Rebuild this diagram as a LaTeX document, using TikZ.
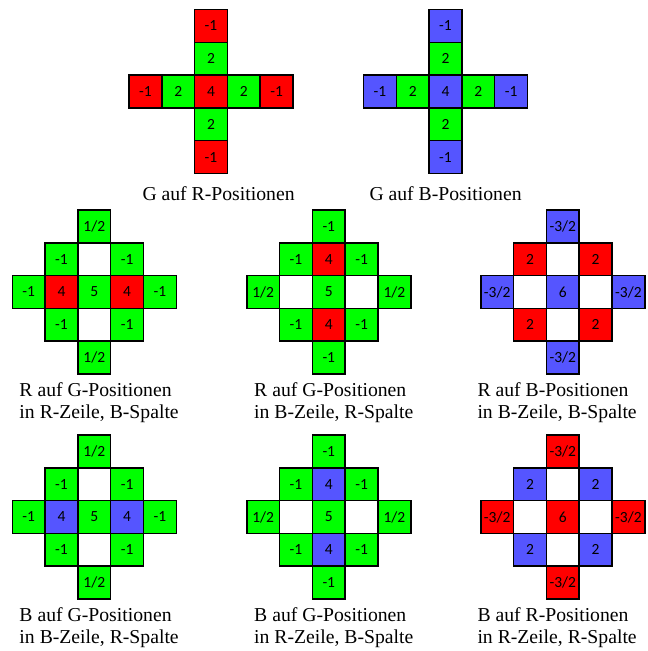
\documentclass[tikz,border=0pt]{standalone}
\usepackage{fontspec}
\setmainfont{Liberation Serif}
\newfontfamily\cellfont{Carlito}
\definecolor{cR}{RGB}{255,0,0}
\definecolor{cG}{RGB}{0,255,0}
\definecolor{cB}{RGB}{85,85,255}
\definecolor{cW}{RGB}{255,255,255}
\def\s{32.8}
\newcommand\C[5]{\node[cell,fill=#4] (#1) at ({#2*\s},{#3*\s}) {#5};}
\newcommand\Borders[2]{\foreach \k in {1,...,#2} {\draw[cellborder] (#1\k.north west) rectangle (#1\k.south east);}}
\tikzset{
  cell/.style={minimum size=\s pt, inner sep=0pt, outer sep=0pt,
    font=\cellfont\fontsize{15.5}{16}\selectfont},
  cellborder/.style={draw=black, line width=1.5pt, line join=miter},
  captext/.style={anchor=base west, inner sep=0pt, font=\fontsize{19.7}{22}\selectfont}
}
\begin{document}
\begin{tikzpicture}[x=1pt,y=-1pt]
\useasboundingbox (0,0) rectangle (648,651);
% ---- Row 1: G auf R
\begin{scope}[shift={(211,91.5)}]
\C{a1}{0}{-2}{cR}{-1}
\C{a2}{0}{-1}{cG}{2}
\C{a3}{-2}{0}{cR}{-1}
\C{a4}{-1}{0}{cG}{2}
\C{a5}{0}{0}{cR}{4}
\C{a6}{1}{0}{cG}{2}
\C{a7}{2}{0}{cR}{-1}
\C{a8}{0}{1}{cG}{2}
\C{a9}{0}{2}{cR}{-1}
\Borders{a}{9}
\end{scope}
% ---- Row 1: G auf B
\begin{scope}[shift={(445.5,91.5)}]
\C{b1}{0}{-2}{cB}{-1}
\C{b2}{0}{-1}{cG}{2}
\C{b3}{-2}{0}{cB}{-1}
\C{b4}{-1}{0}{cG}{2}
\C{b5}{0}{0}{cB}{4}
\C{b6}{1}{0}{cG}{2}
\C{b7}{2}{0}{cB}{-1}
\C{b8}{0}{1}{cG}{2}
\C{b9}{0}{2}{cB}{-1}
\Borders{b}{9}
\end{scope}
\node[captext] (capA) at (142.3,200) {G auf R-Positionen};
\node[captext] (capB) at (369.3,200) {G auf B-Positionen};
% ---- Row 2, pattern 1: R auf G in R-Zeile, B-Spalte
\begin{scope}[shift={(94.3,292)}]
\C{c1}{0}{-2}{cG}{1/2}
\C{c2}{-1}{-1}{cG}{-1}
\C{c3}{0}{-1}{cW}{}
\C{c4}{1}{-1}{cG}{-1}
\C{c5}{-2}{0}{cG}{-1}
\C{c6}{-1}{0}{cR}{4}
\C{c7}{0}{0}{cG}{5}
\C{c8}{1}{0}{cR}{4}
\C{c9}{2}{0}{cG}{-1}
\C{c10}{-1}{1}{cG}{-1}
\C{c11}{0}{1}{cW}{}
\C{c12}{1}{1}{cG}{-1}
\C{c13}{0}{2}{cG}{1/2}
\Borders{c}{13}
\end{scope}
% ---- Row 2, pattern 2: R auf G in B-Zeile, R-Spalte
\begin{scope}[shift={(328.8,292)}]
\C{d1}{0}{-2}{cG}{-1}
\C{d2}{-1}{-1}{cG}{-1}
\C{d3}{0}{-1}{cR}{4}
\C{d4}{1}{-1}{cG}{-1}
\C{d5}{-2}{0}{cG}{1/2}
\C{d6}{-1}{0}{cW}{}
\C{d7}{0}{0}{cG}{5}
\C{d8}{1}{0}{cW}{}
\C{d9}{2}{0}{cG}{1/2}
\C{d10}{-1}{1}{cG}{-1}
\C{d11}{0}{1}{cR}{4}
\C{d12}{1}{1}{cG}{-1}
\C{d13}{0}{2}{cG}{-1}
\Borders{d}{13}
\end{scope}
% ---- Row 2, pattern 3: R auf B
\begin{scope}[shift={(562.8,292)}]
\C{e1}{0}{-2}{cB}{-3/2}
\C{e2}{-1}{-1}{cR}{2}
\C{e3}{0}{-1}{cW}{}
\C{e4}{1}{-1}{cR}{2}
\C{e5}{-2}{0}{cB}{-3/2}
\C{e6}{-1}{0}{cW}{}
\C{e7}{0}{0}{cB}{6}
\C{e8}{1}{0}{cW}{}
\C{e9}{2}{0}{cB}{-3/2}
\C{e10}{-1}{1}{cR}{2}
\C{e11}{0}{1}{cW}{}
\C{e12}{1}{1}{cR}{2}
\C{e13}{0}{2}{cB}{-3/2}
\Borders{e}{13}
\end{scope}
\node[captext] (capC1) at (19.3,396) {R auf G-Positionen};
\node[captext] (capC2) at (19.3,418) {in R-Zeile, B-Spalte};
\node[captext] (capD1) at (254,396) {R auf G-Positionen};
\node[captext] (capD2) at (254,418) {in B-Zeile, R-Spalte};
\node[captext] (capE1) at (477.3,396) {R auf B-Positionen};
\node[captext] (capE2) at (477.3,418) {in B-Zeile, B-Spalte};
% ---- Row 3, pattern 1: B auf G in B-Zeile, R-Spalte
\begin{scope}[shift={(94.3,517)}]
\C{f1}{0}{-2}{cG}{1/2}
\C{f2}{-1}{-1}{cG}{-1}
\C{f3}{0}{-1}{cW}{}
\C{f4}{1}{-1}{cG}{-1}
\C{f5}{-2}{0}{cG}{-1}
\C{f6}{-1}{0}{cB}{4}
\C{f7}{0}{0}{cG}{5}
\C{f8}{1}{0}{cB}{4}
\C{f9}{2}{0}{cG}{-1}
\C{f10}{-1}{1}{cG}{-1}
\C{f11}{0}{1}{cW}{}
\C{f12}{1}{1}{cG}{-1}
\C{f13}{0}{2}{cG}{1/2}
\Borders{f}{13}
\end{scope}
% ---- Row 3, pattern 2: B auf G in R-Zeile, B-Spalte
\begin{scope}[shift={(328.8,517)}]
\C{g1}{0}{-2}{cG}{-1}
\C{g2}{-1}{-1}{cG}{-1}
\C{g3}{0}{-1}{cB}{4}
\C{g4}{1}{-1}{cG}{-1}
\C{g5}{-2}{0}{cG}{1/2}
\C{g6}{-1}{0}{cW}{}
\C{g7}{0}{0}{cG}{5}
\C{g8}{1}{0}{cW}{}
\C{g9}{2}{0}{cG}{1/2}
\C{g10}{-1}{1}{cG}{-1}
\C{g11}{0}{1}{cB}{4}
\C{g12}{1}{1}{cG}{-1}
\C{g13}{0}{2}{cG}{-1}
\Borders{g}{13}
\end{scope}
% ---- Row 3, pattern 3: B auf R
\begin{scope}[shift={(562.8,517)}]
\C{h1}{0}{-2}{cR}{-3/2}
\C{h2}{-1}{-1}{cB}{2}
\C{h3}{0}{-1}{cW}{}
\C{h4}{1}{-1}{cB}{2}
\C{h5}{-2}{0}{cR}{-3/2}
\C{h6}{-1}{0}{cW}{}
\C{h7}{0}{0}{cR}{6}
\C{h8}{1}{0}{cW}{}
\C{h9}{2}{0}{cR}{-3/2}
\C{h10}{-1}{1}{cB}{2}
\C{h11}{0}{1}{cW}{}
\C{h12}{1}{1}{cB}{2}
\C{h13}{0}{2}{cR}{-3/2}
\Borders{h}{13}
\end{scope}
\node[captext] (capF1) at (19.3,621) {B auf G-Positionen};
\node[captext] (capF2) at (19.3,643) {in B-Zeile, R-Spalte};
\node[captext] (capG1) at (254,621) {B auf G-Positionen};
\node[captext] (capG2) at (254,643) {in R-Zeile, B-Spalte};
\node[captext] (capH1) at (477.3,621) {B auf R-Positionen};
\node[captext] (capH2) at (477.3,643) {in R-Zeile, R-Spalte};
\end{tikzpicture}
\end{document}
